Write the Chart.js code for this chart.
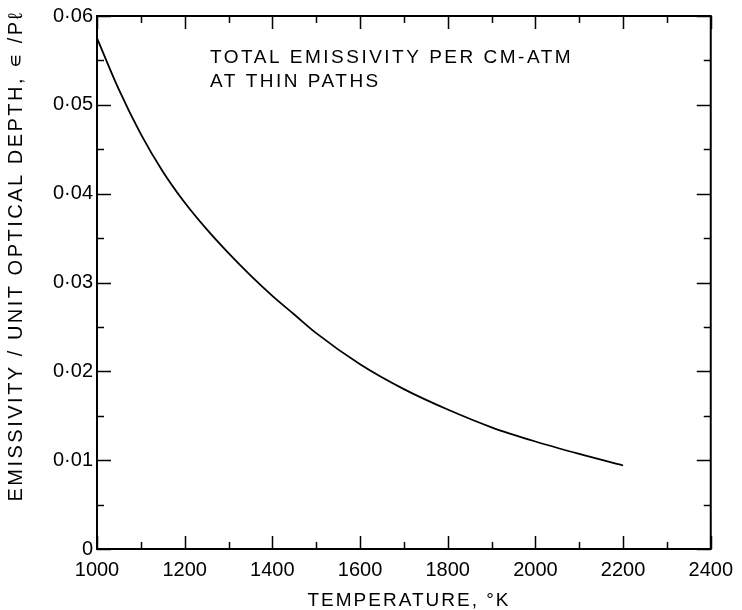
<!DOCTYPE html>
<html>
<head>
<meta charset="utf-8">
<script src="https://cdn.jsdelivr.net/npm/chart.js@4.4.1/dist/chart.umd.min.js"></script>
<style>
html,body{margin:0;padding:0;background:#fff;}
#wrap{width:742px;height:610px;}
</style>
</head>
<body>
<div id="wrap"><canvas id="c" width="742" height="610"></canvas></div>
<script>
// Data
const temperatures = [1000, 1050, 1100, 1150, 1200, 1250, 1300, 1350, 1400, 1450, 1500, 1600, 1700, 1800, 1900, 2000, 2100, 2200];
const emissivity   = [0.0575, 0.0517, 0.0467, 0.0425, 0.0390, 0.0360, 0.0333, 0.0308, 0.0285, 0.0264, 0.0243, 0.0208, 0.0180, 0.0157, 0.0137, 0.0121, 0.0107, 0.0094];
const xTickLabels = ['1000', '1200', '1400', '1600', '1800', '2000', '2200', '2400'];
const yTickLabels = ['0', '0·01', '0·02', '0·03', '0·04', '0·05', '0·06'];
const xTitle = 'TEMPERATURE, °K';
const yTitle = 'EMISSIVITY / UNIT OPTICAL DEPTH, \u220A /P\u2113';
const noteLines = ['TOTAL EMISSIVITY PER CM-ATM', 'AT THIN PATHS'];

const FONT = '"Liberation Sans", Arial, sans-serif';

const framePlugin = {
  id: 'frame',
  afterDraw(chart) {
    const ctx = chart.ctx;
    const a = chart.chartArea;
    const xs = chart.scales.x, ys = chart.scales.y;
    ctx.save();
    ctx.strokeStyle = '#000';
    ctx.lineWidth = 2;
    ctx.strokeRect(a.left, a.top, a.right - a.left, a.bottom - a.top);
    ctx.lineWidth = 1.5;
    ctx.beginPath();
    for (let v = 1000; v <= 2400; v += 100) {
      const px = Math.round(xs.getPixelForValue(v)) + 0.5;
      const len = (v % 200 === 0) ? 13 : 7;
      ctx.moveTo(px, a.bottom); ctx.lineTo(px, a.bottom - len);
      ctx.moveTo(px, a.top); ctx.lineTo(px, a.top + len);
    }
    for (let i = 0; i <= 12; i++) {
      const v = i * 0.005;
      const py = Math.round(ys.getPixelForValue(v)) + 0.5;
      const len = (i % 2 === 0) ? 14 : 7;
      ctx.moveTo(a.left, py); ctx.lineTo(a.left + len, py);
      ctx.moveTo(a.right, py); ctx.lineTo(a.right - len, py);
    }
    ctx.stroke();

    ctx.fillStyle = '#000';
    // annotation
    ctx.font = '19px ' + FONT;
    ctx.letterSpacing = '2.5px';
    ctx.textAlign = 'left';
    ctx.textBaseline = 'alphabetic';
    ctx.fillText(noteLines[0], 210, 63);
    ctx.fillText(noteLines[1], 210, 87);
    // x title
    ctx.letterSpacing = '2px';
    ctx.textAlign = 'center';
    ctx.fillText(xTitle, 409, 606);
    // y title
    ctx.save();
    ctx.font = '20px ' + FONT;
    ctx.letterSpacing = '2.5px';
    ctx.translate(22, 256);
    ctx.rotate(-Math.PI / 2);
    ctx.textAlign = 'center';
    ctx.textBaseline = 'alphabetic';
    ctx.fillText(yTitle, 0, 0);
    ctx.restore();
    ctx.restore();
  }
};

new Chart(document.getElementById('c'), {
  type: 'line',
  data: {
    datasets: [{
      data: temperatures.map((t, i) => ({x: t, y: emissivity[i]})),
      borderColor: '#000',
      borderWidth: 1.8,
      pointRadius: 0,
      fill: false,
      cubicInterpolationMode: 'monotone'
    }]
  },
  options: {
    responsive: false,
    devicePixelRatio: 1,
    animation: false,
    layout: {padding: {top: 14, right: 31, left: 0, bottom: 0}},
    plugins: {legend: {display: false}, tooltip: {enabled: false}},
    scales: {
      x: {
        type: 'linear', min: 1000, max: 2400,
        grid: {display: false, drawTicks: false},
        border: {display: false},
        ticks: {
          stepSize: 200, color: '#000', padding: 9,
          font: {family: FONT, size: 20},
          maxRotation: 0,
          callback: (v) => xTickLabels[Math.round((v - 1000) / 200)]
        },
        afterFit: (s) => { s.height = 61; }
      },
      y: {
        type: 'linear', min: 0, max: 0.06,
        grid: {display: false, drawTicks: false},
        border: {display: false},
        ticks: {
          stepSize: 0.01, color: '#000', padding: 4,
          font: {family: FONT, size: 20},
          callback: (v) => yTickLabels[Math.round(v / 0.01)]
        },
        afterFit: (s) => { s.width = 97; }
      }
    }
  },
  plugins: [framePlugin]
});
</script>
</body>
</html>
